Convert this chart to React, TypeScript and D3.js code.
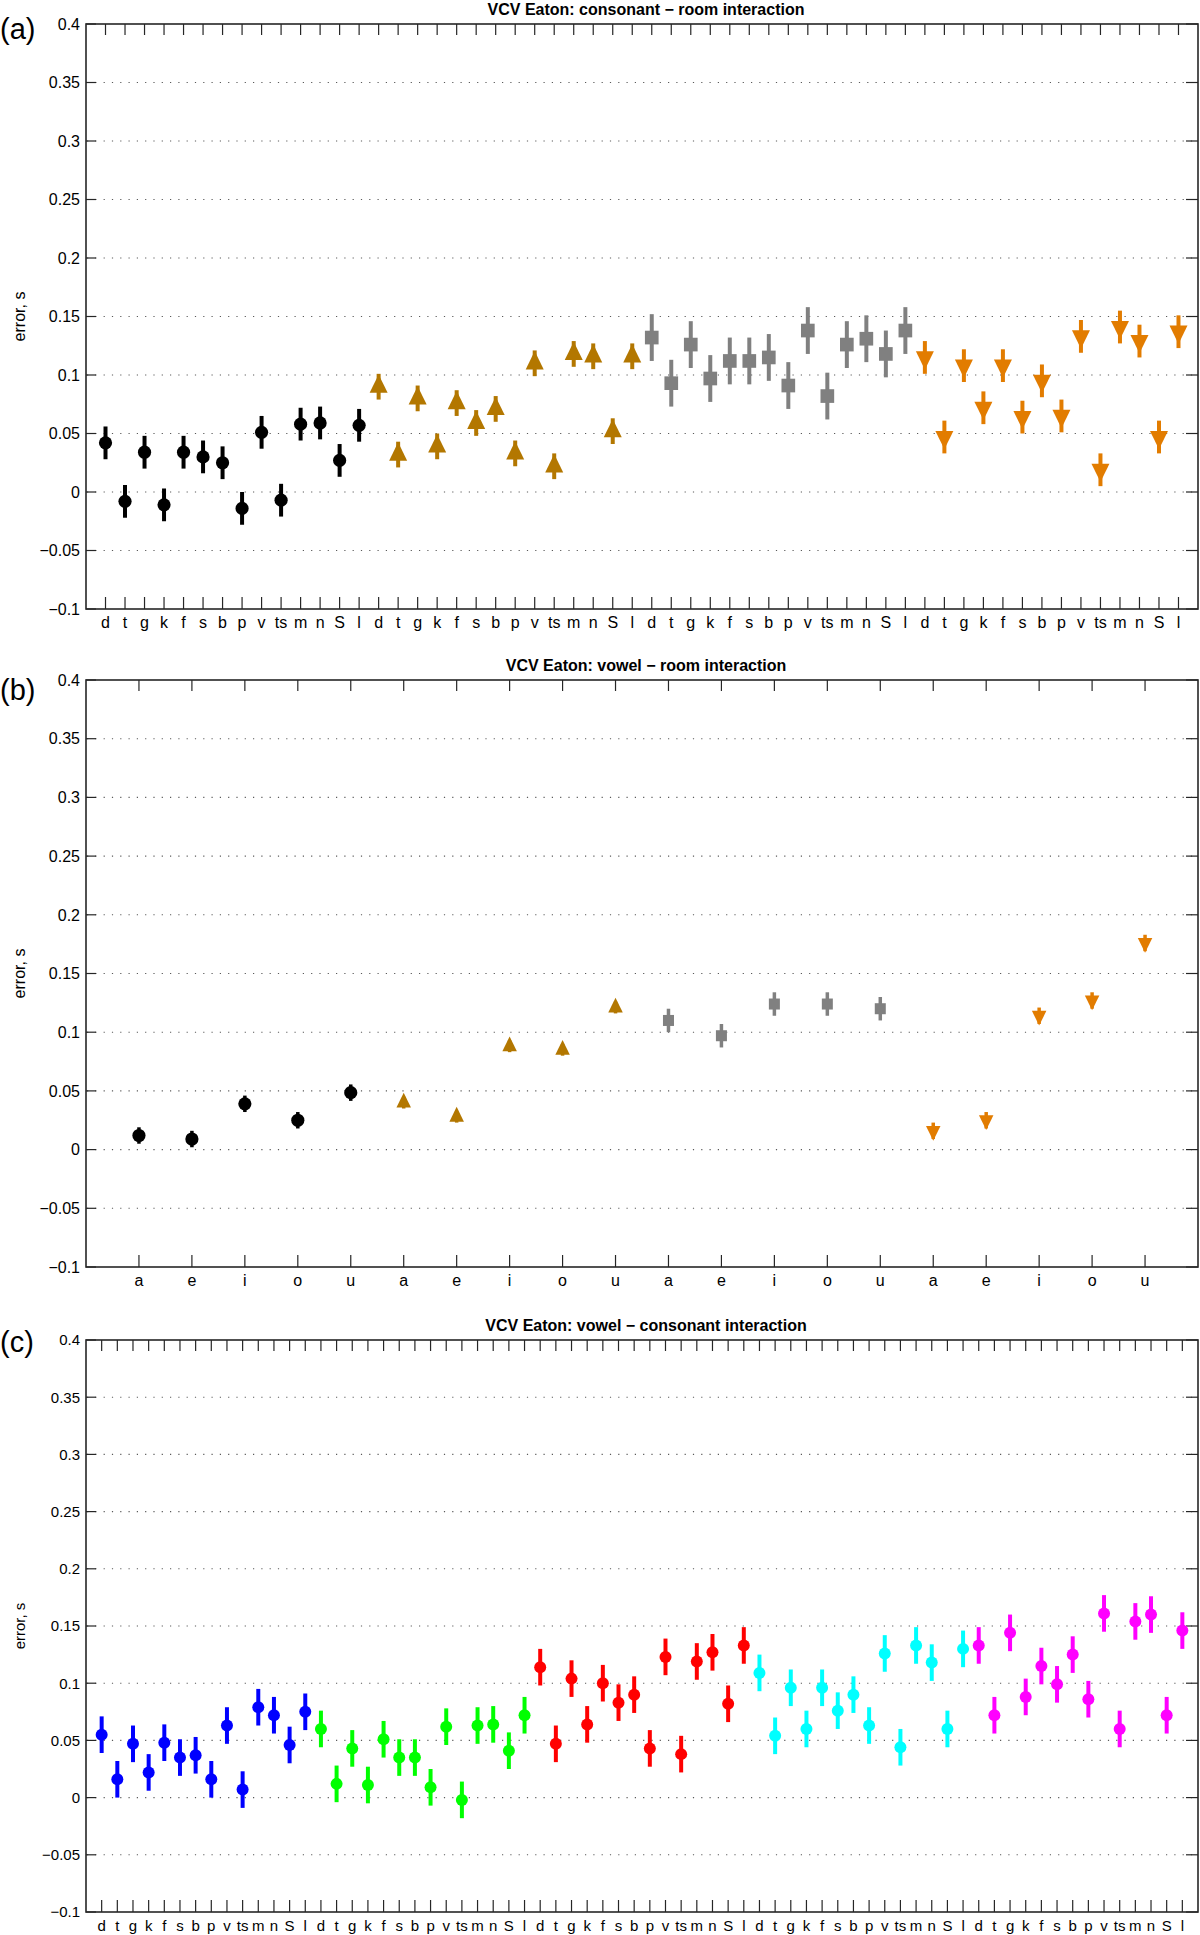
import React from "react";
import * as d3 from "d3";

// ---- data ----
const consonants = ["d", "t", "g", "k", "f", "s", "b", "p", "v", "ts", "m", "n", "S", "l"];
const vowels = ["a", "e", "i", "o", "u"];

const yTicks = [-0.1, -0.05, 0, 0.05, 0.1, 0.15, 0.2, 0.25, 0.3, 0.35, 0.4];
const yTickLabels = ["−0.1", "−0.05", "0", "0.05", "0.1", "0.15", "0.2", "0.25", "0.3", "0.35", "0.4"];

// (a) consonant x room, one series per room
const conRoomBlack = [0.042, -0.008, 0.034, -0.011, 0.034, 0.030, 0.025, -0.014, 0.051, -0.007, 0.058, 0.059, 0.027, 0.057];
const conRoomGold = [0.090, 0.032, 0.080, 0.039, 0.076, 0.059, 0.071, 0.033, 0.110, 0.022, 0.118, 0.116, 0.052, 0.116];
const conRoomGray = [0.132, 0.093, 0.126, 0.097, 0.112, 0.112, 0.115, 0.091, 0.138, 0.082, 0.126, 0.131, 0.118, 0.138];
const conRoomOrange = [0.115, 0.047, 0.108, 0.072, 0.108, 0.064, 0.095, 0.065, 0.133, 0.019, 0.141, 0.129, 0.047, 0.137];
const conRoomErr = [0.014, 0.011, 0.020, 0.014];

// (b) vowel x room
const vowRoomBlack = [0.012, 0.009, 0.039, 0.025, 0.0485];
const vowRoomGold = [0.040, 0.028, 0.088, 0.085, 0.121];
const vowRoomGray = [0.110, 0.097, 0.124, 0.124, 0.120];
const vowRoomOrange = [0.016, 0.025, 0.114, 0.127, 0.176];
const vowRoomErr = [0.007, 0.005, 0.010, 0.007];

// (c) vowel x consonant, one series per vowel
const vowConBlue = [0.055, 0.016, 0.047, 0.022, 0.048, 0.035, 0.037, 0.016, 0.063, 0.007, 0.079, 0.072, 0.046, 0.075];
const vowConGreen = [0.060, 0.012, 0.043, 0.011, 0.051, 0.035, 0.035, 0.009, 0.062, -0.002, 0.063, 0.064, 0.041, 0.072];
const vowConRed = [0.114, 0.047, 0.104, 0.064, 0.100, 0.083, 0.090, 0.043, 0.123, 0.038, 0.119, 0.127, 0.082, 0.133];
const vowConCyan = [0.109, 0.054, 0.096, 0.060, 0.096, 0.076, 0.090, 0.063, 0.126, 0.044, 0.133, 0.118, 0.060, 0.130];
const vowConMagenta = [0.133, 0.072, 0.144, 0.088, 0.115, 0.099, 0.125, 0.086, 0.161, 0.060, 0.154, 0.160, 0.072, 0.146];
const vowConErr = [0.016, 0.016, 0.016, 0.016, 0.016];

const FONT = "'Liberation Sans', Arial, Helvetica, sans-serif";
const AXIS = "#262626";
const LEFT = 86;
const RIGHT = 1198;

type Shape = "circle" | "up" | "square" | "down";
type Group = { values: number[]; err: number; color: string; shape: Shape };

function markerPath(shape: Shape, s: number) {
  if (shape === "up") return `M0,${-0.68 * s}L${0.5 * s},${0.34 * s}L${-0.5 * s},${0.34 * s}Z`;
  if (shape === "down") return `M0,${0.68 * s}L${0.5 * s},${-0.34 * s}L${-0.5 * s},${-0.34 * s}Z`;
  const h = 0.38 * s;
  return `M${-h},${-h}H${h}V${h}H${-h}Z`;
}

function Panel(props: {
  top: number;
  bottom: number;
  title: string;
  letter: string;
  letterY: number;
  labels: string[];
  groups: Group[];
  font: number;
  size: number;
  radius: number;
  barW: number;
}) {
  const { top, bottom, title, letter, letterY, labels, groups, font, size, radius, barW } = props;
  const x = d3.scaleLinear().domain([0, labels.length + 1]).range([LEFT, RIGHT]);
  const y = d3.scaleLinear().domain([-0.1, 0.4]).range([bottom, top]);
  const tick = 12;

  let k = 0;
  const pts = groups.flatMap((g) =>
    g.values.map((v) => {
      k += 1;
      return { i: k, v, e: g.err, color: g.color, shape: g.shape };
    })
  );

  return (
    <g fontFamily={FONT}>
      <text x={0} y={letterY} fontSize={29} fill="#000">
        {letter}
      </text>
      <text x={(LEFT + RIGHT) / 2 + 4} y={top - 9} textAnchor="middle" fontSize={16} fontWeight="bold" fill="#000">
        {title}
      </text>
      <text
        transform={`translate(25,${(top + bottom) / 2}) rotate(-90)`}
        textAnchor="middle"
        fontSize={font}
        fill="#000"
      >
        error, s
      </text>

      {/* dotted grid */}
      {yTicks
        .filter((t) => t > -0.1 && t < 0.4)
        .map((t) => (
          <line
            key={"g" + t}
            x1={LEFT + 1}
            x2={RIGHT - 1}
            y1={y(t)}
            y2={y(t)}
            stroke="#5a5a5a"
            strokeWidth={1.1}
            strokeDasharray="1.2 7.1"
          />
        ))}

      {/* y ticks + labels */}
      {yTicks.map((t, j) => (
        <g key={"y" + t}>
          <line x1={LEFT} x2={LEFT + tick - 2} y1={y(t)} y2={y(t)} stroke={AXIS} strokeWidth={1.2} />
          <line x1={RIGHT} x2={RIGHT - tick} y1={y(t)} y2={y(t)} stroke={AXIS} strokeWidth={1.2} />
          <text x={80} y={y(t)} dy="0.36em" textAnchor="end" fontSize={font} fill="#000">
            {yTickLabels[j]}
          </text>
        </g>
      ))}

      {/* x ticks + labels */}
      {labels.map((l, j) => (
        <g key={"x" + j}>
          <line x1={x(j + 1)} x2={x(j + 1)} y1={bottom} y2={bottom - tick} stroke={AXIS} strokeWidth={1.2} />
          <line x1={x(j + 1)} x2={x(j + 1)} y1={top} y2={top + tick - 1} stroke={AXIS} strokeWidth={1.2} />
          <text x={x(j + 1)} y={bottom + 19} textAnchor="middle" fontSize={font} fill="#000">
            {l}
          </text>
        </g>
      ))}

      {/* error bars and markers */}
      {pts.map((p) => (
        <g key={"p" + p.i}>
          <line
            x1={x(p.i)}
            x2={x(p.i)}
            y1={y(p.v - p.e)}
            y2={y(p.v + p.e)}
            stroke={p.color}
            strokeWidth={barW}
          />
          {p.shape === "circle" ? (
            <circle cx={x(p.i)} cy={y(p.v)} r={radius} fill={p.color} />
          ) : (
            <path transform={`translate(${x(p.i)},${y(p.v)})`} d={markerPath(p.shape, size)} fill={p.color} />
          )}
        </g>
      ))}

      <rect
        x={LEFT}
        y={top}
        width={RIGHT - LEFT}
        height={bottom - top}
        fill="none"
        stroke={AXIS}
        strokeWidth={1.6}
      />
    </g>
  );
}

const GOLD = "#B37700";
const GRAY = "#808080";
const ORANGE = "#E27C00";

export default function App() {
  const roomsA: Group[] = [
    { values: conRoomBlack, err: conRoomErr[0], color: "#000000", shape: "circle" },
    { values: conRoomGold, err: conRoomErr[1], color: GOLD, shape: "up" },
    { values: conRoomGray, err: conRoomErr[2], color: GRAY, shape: "square" },
    { values: conRoomOrange, err: conRoomErr[3], color: ORANGE, shape: "down" },
  ];
  const roomsB: Group[] = [
    { values: vowRoomBlack, err: vowRoomErr[0], color: "#000000", shape: "circle" },
    { values: vowRoomGold, err: vowRoomErr[1], color: GOLD, shape: "up" },
    { values: vowRoomGray, err: vowRoomErr[2], color: GRAY, shape: "square" },
    { values: vowRoomOrange, err: vowRoomErr[3], color: ORANGE, shape: "down" },
  ];
  const vowelColors = ["#0000FF", "#00FF00", "#FF0000", "#00FFFF", "#FF00FF"];
  const seriesC = [vowConBlue, vowConGreen, vowConRed, vowConCyan, vowConMagenta];
  const groupsC: Group[] = seriesC.map((values, j) => ({
    values,
    err: vowConErr[j],
    color: vowelColors[j],
    shape: "circle" as Shape,
  }));

  const labelsA = [0, 1, 2, 3].flatMap(() => consonants);
  const labelsB = [0, 1, 2, 3].flatMap(() => vowels);
  const labelsC = vowels.flatMap(() => consonants);

  return (
    <svg
      width={1200}
      height={1935}
      style={{ position: "absolute", left: 0, top: 0, background: "#fff" }}
    >
      <rect width={1200} height={1935} fill="#fff" />
      <Panel
        top={24}
        bottom={609}
        title="VCV Eaton: consonant − room interaction"
        letter="(a)"
        letterY={39}
        labels={labelsA}
        groups={roomsA}
        font={16}
        size={18}
        radius={6.6}
        barW={4}
      />
      <Panel
        top={680}
        bottom={1267}
        title="VCV Eaton: vowel − room interaction"
        letter="(b)"
        letterY={700}
        labels={labelsB}
        groups={roomsB}
        font={16}
        size={14.5}
        radius={6.6}
        barW={3.5}
      />
      <Panel
        top={1340}
        bottom={1912}
        title="VCV Eaton: vowel − consonant interaction"
        letter="(c)"
        letterY={1352}
        labels={labelsC}
        groups={groupsC}
        font={15}
        size={14}
        radius={6}
        barW={4}
      />
    </svg>
  );
}
